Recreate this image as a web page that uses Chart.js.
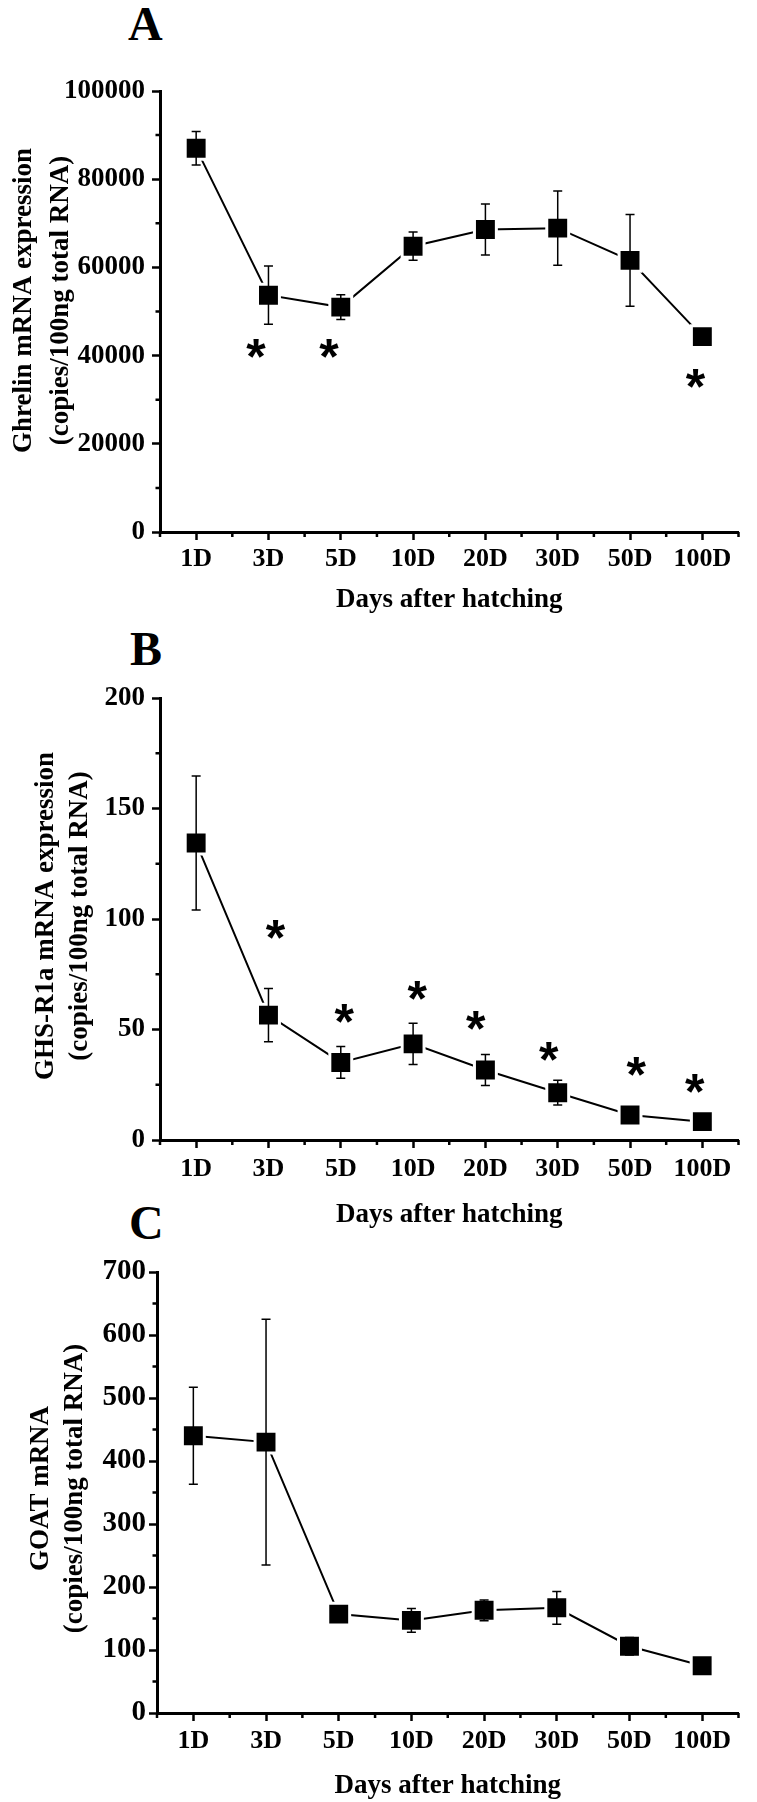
<!DOCTYPE html>
<html>
<head>
<meta charset="utf-8">
<script src="https://cdn.jsdelivr.net/npm/chart.js@4/dist/chart.umd.min.js"></script>
<style>
html,body{margin:0;padding:0;background:#fff;}
body{width:757px;height:1802px;position:relative;overflow:hidden;}
canvas{position:absolute;left:0;}
.lbl{position:absolute;font-family:"Liberation Serif","Times New Roman",serif;font-weight:bold;font-size:48px;line-height:1;color:#000;}
</style>
</head>
<body>
<div class="lbl" style="left:128px;top:0px">A</div>
<div class="lbl" style="left:130px;top:625px">B</div>
<div class="lbl" style="left:129px;top:1199px">C</div>
<canvas id="cA" width="757" height="625" style="top:0px"></canvas>
<canvas id="cB" width="757" height="620" style="top:620px"></canvas>
<canvas id="cC" width="757" height="612" style="top:1190px"></canvas>
<script>
// ---------- data ----------
const categories = ['1D', '3D', '5D', '10D', '20D', '30D', '50D', '100D'];

const ghrelinMean = [87000, 53700, 51000, 64800, 68600, 68900, 61600, 44300];
const ghrelinErr  = [3800, 6600, 2800, 3200, 5800, 8400, 10400, 1000];
const ghrelinTicks = [0, 20000, 40000, 60000, 80000, 100000];
const ghrelinStars = [{x: 0.83, y: 41700}, {x: 1.84, y: 41700}, {x: 6.91, y: 34800}];

const ghsrMean = [134.4, 56.5, 35.1, 43.5, 31.7, 21.4, 11.3, 8.3];
const ghsrErr  = [30.3, 12.0, 7.2, 9.3, 7.0, 5.6, 2.0, 1.5];
const ghsrTicks = [0, 50, 100, 150, 200];
const ghsrStars = [{x: 1.10, y: 95.3}, {x: 2.05, y: 57.4}, {x: 3.06, y: 67.8}, {x: 3.87, y: 53.9},
                   {x: 4.88, y: 40.0}, {x: 6.09, y: 33.4}, {x: 6.90, y: 25.7}];

const goatMean = [440, 430, 157, 147, 163, 167, 106, 75];
const goatErr  = [77, 195, 8, 19, 16.5, 26, 14, 5];
const goatTicks = [0, 100, 200, 300, 400, 500, 600, 700];
const goatStars = [];

const xTitle = 'Days after hatching';

// ---------- drawing helpers ----------
const SERIF = '"Liberation Serif", "Times New Roman", Times, serif';
const SANS = '"Liberation Sans", Arial, sans-serif';

const extras = {
  id: 'extras',
  afterDatasetsDraw(chart, args, o) {
    const ctx = chart.ctx, xs = chart.scales.x, ys = chart.scales.y;
    ctx.save();
    // error bars
    ctx.strokeStyle = '#000';
    ctx.lineWidth = 1.5;
    o.mean.forEach((m, i) => {
      const px = xs.getPixelForValue(i);
      const t = ys.getPixelForValue(m + o.err[i]);
      const b = ys.getPixelForValue(m - o.err[i]);
      ctx.beginPath();
      ctx.moveTo(px, t); ctx.lineTo(px, b);
      ctx.moveTo(px - 4.5, t); ctx.lineTo(px + 4.5, t);
      ctx.moveTo(px - 4.5, b); ctx.lineTo(px + 4.5, b);
      ctx.stroke();
    });
    // asterisks
    ctx.fillStyle = '#000';
    ctx.font = 'bold 50px ' + SANS;
    ctx.textAlign = 'left';
    ctx.textBaseline = 'alphabetic';
    const mt = ctx.measureText('*');
    o.stars.forEach(s => {
      const px = xs.getPixelForValue(s.x);
      const py = ys.getPixelForValue(s.y);
      const dx = px - (mt.actualBoundingBoxRight - mt.actualBoundingBoxLeft) / 2;
      const dy = py + (mt.actualBoundingBoxAscent - mt.actualBoundingBoxDescent) / 2;
      ctx.fillText('*', dx, dy);
    });
    ctx.restore();
  },
  afterDraw(chart, args, o) {
    // minor ticks
    const ctx = chart.ctx, xs = chart.scales.x, ys = chart.scales.y, ca = chart.chartArea;
    ctx.save();
    ctx.strokeStyle = '#000';
    ctx.lineWidth = 2.5;
    ctx.beginPath();
    for (let i = 0; i < o.ticks.length - 1; i++) {
      const py = ys.getPixelForValue((o.ticks[i] + o.ticks[i + 1]) / 2);
      ctx.moveTo(ca.left, py); ctx.lineTo(ca.left - 4.5, py);
    }
    for (let i = 0; i <= o.mean.length; i++) {
      const px = xs.getPixelForValue(i - 0.5);
      ctx.moveTo(px, ca.bottom); ctx.lineTo(px, ca.bottom + 5);
    }
    ctx.stroke();
    ctx.restore();
  }
};

function makePanel(id, c) {
  return new Chart(document.getElementById(id), {
    type: 'line',
    data: {
      labels: categories,
      datasets: [{
        data: c.mean,
        borderColor: '#000',
        borderWidth: 2,
        tension: 0,
        fill: false,
        clip: false,
        pointStyle: 'rect',
        pointRadius: 15.5,
        pointBackgroundColor: '#000',
        pointBorderColor: '#fff',
        pointBorderWidth: 3
      }]
    },
    options: {
      responsive: false,
      animation: false,
      events: [],
      layout: {padding: {top: c.padTop, left: 0, right: c.padRight, bottom: 0}},
      plugins: {
        legend: {display: false},
        tooltip: {enabled: false},
        extras: {mean: c.mean, err: c.err, stars: c.stars, ticks: c.ticks}
      },
      scales: {
        x: {
          type: 'category',
          offset: true,
          grid: {display: true, drawOnChartArea: false, offset: false, color: '#000',
                 tickColor: '#000', tickLength: 8, tickWidth: 2.5},
          border: {display: true, color: '#000', width: 3},
          ticks: {color: '#000', font: {family: SERIF, weight: 'bold', size: 26},
                  padding: c.xPad, maxRotation: 0, autoSkip: false},
          title: {display: true, text: xTitle, color: '#000',
                  font: {family: SERIF, weight: 'bold', size: 27},
                  padding: {top: 0, bottom: c.xTitlePad}},
          afterFit(s) { s.height = c.xHeight; }
        },
        y: {
          min: 0,
          max: c.ticks[c.ticks.length - 1],
          afterBuildTicks(s) { s.ticks = c.ticks.map(v => ({value: v})); },
          grid: {display: true, drawOnChartArea: false, color: '#000',
                 tickColor: '#000', tickLength: 8, tickWidth: 2.5},
          border: {display: true, color: '#000', width: 3},
          ticks: {color: '#000', font: {family: SERIF, weight: 'bold', size: c.yFont},
                  padding: c.yPad, callback: v => String(v)},
          title: {display: true, text: c.yTitle, color: '#000',
                  font: {family: SERIF, weight: 'bold', size: 27, lineHeight: c.yLH},
                  padding: {top: c.yTitlePad, bottom: 0}},
          afterFit(s) {
            s.width = c.left;
            if (!s._titleShifted) {
              s._titleShifted = true;
              const orig = s.drawTitle;
              s.drawTitle = function () {
                const ctx = this.ctx;
                ctx.save();
                ctx.translate(0, c.yTitleShift);
                orig.apply(this, arguments);
                ctx.restore();
              };
            }
          }
        }
      }
    },
    plugins: [extras]
  });
}

makePanel('cA', {
  mean: ghrelinMean, err: ghrelinErr, ticks: ghrelinTicks, stars: ghrelinStars,
  yTitle: ['Ghrelin mRNA expression', '(copies/100ng total RNA)'],
  padTop: 91, padRight: 0, left: 160, xHeight: 93, xPad: 4, xTitlePad: 9,
  yFont: 27, yPad: 7, yLH: 1.37, yTitlePad: 5.5, yTitleShift: -11
});
makePanel('cB', {
  mean: ghsrMean, err: ghsrErr, ticks: ghsrTicks, stars: ghsrStars,
  yTitle: ['GHS-R1a mRNA expression', '(copies/100ng total RNA)'],
  padTop: 78, padRight: 0, left: 160, xHeight: 100, xPad: 6, xTitlePad: 9,
  yFont: 27, yPad: 7, yLH: 1.26, yTitlePad: 29, yTitleShift: -3
});
makePanel('cC', {
  mean: goatMean, err: goatErr, ticks: goatTicks, stars: goatStars,
  yTitle: ['GOAT mRNA', '(copies/100ng total RNA)'],
  padTop: 82, padRight: 2, left: 157, xHeight: 89, xPad: 5, xTitlePad: 0,
  yFont: 29, yPad: 3, yLH: 1.26, yTitlePad: 24, yTitleShift: -4
});
</script>
</body>
</html>
